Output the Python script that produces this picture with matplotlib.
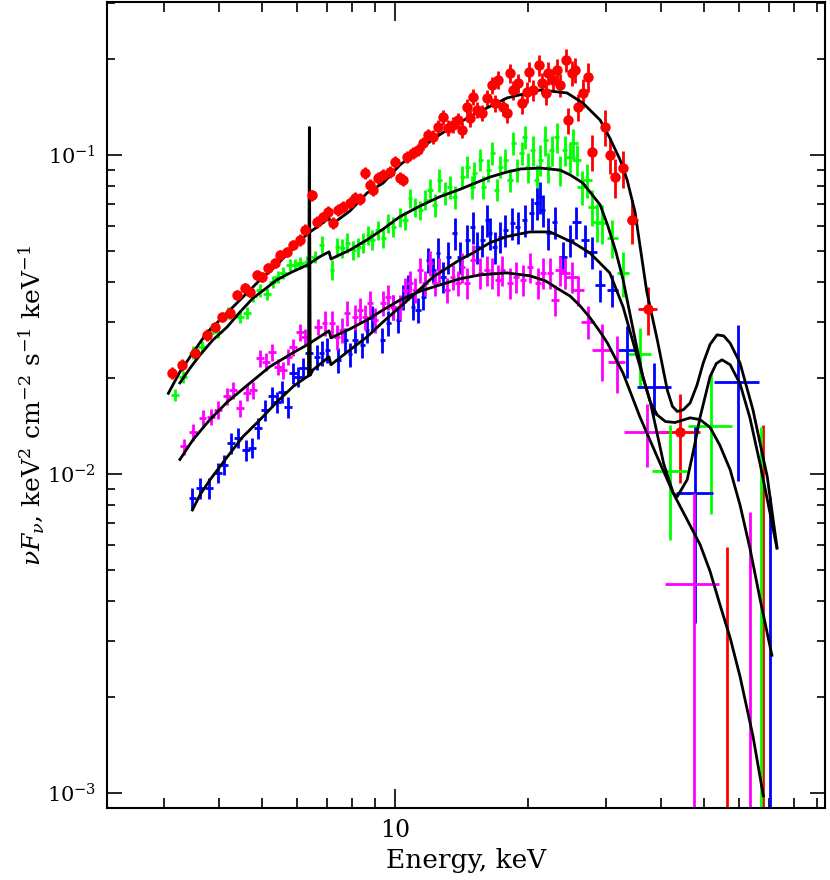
import numpy as np
import matplotlib.pyplot as plt
from matplotlib.ticker import LogLocator, NullFormatter

plt.rcParams['font.family'] = ['DejaVu Serif']
plt.rcParams['mathtext.fontset'] = 'dejavuserif'

# ---- spectrum 1 (red, filled circles)
red_e = [3.13, 3.29, 3.53, 3.75, 3.91, 4.06, 4.24, 4.40, 4.58, 4.70,
         4.87, 5.00, 5.16, 5.35, 5.49, 5.69, 5.88, 6.10, 6.26, 6.49,
         6.66, 6.87, 7.05, 7.24, 7.43, 7.63, 7.91, 8.12, 8.33, 8.55,
         8.78, 8.92, 9.15, 9.40, 9.74, 10.0, 10.26, 10.4, 10.64, 10.98,
         11.27, 11.57, 11.88, 12.19, 12.51, 12.84, 13.18, 13.53, 13.88, 14.18,
         14.55, 14.79, 15.02, 15.33, 15.74, 16.15, 16.58, 16.83, 17.10, 17.54,
         17.91, 18.2, 18.49, 18.97, 19.37, 19.89, 20.1, 20.5, 21.2, 21.5,
         21.96, 22.2, 22.75, 23.26, 23.6, 24.4, 24.6, 25.1, 25.5, 25.9,
         26.6, 27.3, 27.9, 29.9, 30.6, 31.5, 32.8, 34.4, 37.3, 44.2]
red_de = [0.06, 0.06, 0.07, 0.07, 0.07, 0.07, 0.08, 0.08, 0.08, 0.08,
          0.08, 0.08, 0.08, 0.08, 0.08, 0.08, 0.08, 0.08, 0.08, 0.08,
          0.08, 0.08, 0.09, 0.09, 0.09, 0.09, 0.10, 0.10, 0.10, 0.10,
          0.11, 0.11, 0.11, 0.11, 0.12, 0.12, 0.12, 0.12, 0.13, 0.13,
          0.14, 0.14, 0.14, 0.15, 0.15, 0.15, 0.16, 0.16, 0.17, 0.17,
          0.17, 0.18, 0.18, 0.18, 0.19, 0.19, 0.20, 0.20, 0.21, 0.21,
          0.21, 0.22, 0.22, 0.23, 0.23, 0.24, 0.24, 0.25, 0.25, 0.26,
          0.26, 0.27, 0.27, 0.28, 0.28, 0.29, 0.30, 0.30, 0.31, 0.31,
          0.32, 0.33, 0.4, 0.5, 0.4, 0.4, 0.45, 1.0, 1.9, 4.8]
red_f = [0.0207, 0.0220, 0.0240, 0.0273, 0.0289, 0.0311, 0.0319, 0.0364, 0.0383, 0.0372,
         0.0421, 0.0415, 0.0442, 0.0459, 0.0486, 0.0497, 0.0522, 0.0542, 0.0582, 0.0749,
         0.0617, 0.0639, 0.0663, 0.0612, 0.0673, 0.0687, 0.0707, 0.0733, 0.0728, 0.0878,
         0.0805, 0.0777, 0.0847, 0.0866, 0.0884, 0.0951, 0.0847, 0.0835, 0.0986, 0.1014,
         0.1037, 0.1090, 0.1155, 0.1139, 0.1224, 0.1316, 0.1215, 0.1242, 0.1287, 0.1198,
         0.1414, 0.1306, 0.1520, 0.1384, 0.1354, 0.1509, 0.1657, 0.1455, 0.1718, 0.1414,
         0.1354, 0.1807, 0.1599, 0.1680, 0.1455, 0.1576, 0.1820, 0.1599, 0.1915, 0.1680,
         0.1565, 0.1807, 0.1718, 0.1847, 0.1657, 0.1986, 0.1287, 0.1807, 0.1847, 0.1414,
         0.1565, 0.1757, 0.1022, 0.1224, 0.1000, 0.0853, 0.0910, 0.0625, 0.0329, 0.01355]
red_df = [0.0009, 0.0009, 0.0010, 0.0011, 0.0011, 0.0012, 0.0012, 0.0014, 0.0014, 0.0014,
          0.0016, 0.0016, 0.0017, 0.0017, 0.0018, 0.0019, 0.0020, 0.0022, 0.0024, 0.0030,
          0.0025, 0.0026, 0.0027, 0.0026, 0.0028, 0.0029, 0.0030, 0.0031, 0.0031, 0.0037,
          0.0034, 0.0033, 0.0036, 0.0037, 0.0038, 0.0040, 0.0036, 0.0036, 0.0042, 0.0045,
          0.0046, 0.0050, 0.0055, 0.0055, 0.006, 0.007, 0.007, 0.007, 0.007, 0.007,
          0.008, 0.008, 0.009, 0.008, 0.008, 0.009, 0.010, 0.009, 0.011, 0.009,
          0.009, 0.012, 0.011, 0.011, 0.011, 0.012, 0.013, 0.012, 0.015, 0.013,
          0.013, 0.015, 0.014, 0.015, 0.014, 0.017, 0.012, 0.016, 0.016, 0.014,
          0.016, 0.018, 0.013, 0.016, 0.013, 0.012, 0.012, 0.010, 0.0057, 0.0042]
red_lim_e = [56.4, 68.0]
red_lim_top = [0.0059, 0.01425]

# ---- spectrum 2 (green)
green_e = [3.18, 3.31, 3.49, 3.66, 3.81, 3.97, 4.19, 4.46, 4.62, 4.77,
           4.95, 5.13, 5.29, 5.43, 5.58, 5.79, 5.94, 6.10, 6.33, 6.59,
           6.83, 7.20, 7.40, 7.59, 7.79, 8.04, 8.25, 8.46, 8.69, 8.87,
           9.15, 9.40, 9.65, 9.90, 10.26, 10.53, 10.81, 11.1, 11.39, 11.7,
           12.0, 12.3, 12.6, 12.95, 13.3, 13.65, 14.2, 14.55, 14.95, 15.1,
           15.6, 15.85, 16.25, 16.6, 17.0, 17.3, 17.75, 18.2, 18.5, 18.85,
           19.35, 19.65, 19.95, 20.5, 20.9, 21.3, 21.85, 22.2, 22.6, 23.2,
           23.6, 24.2, 24.9, 25.3, 25.8, 26.45, 27.15, 27.95, 28.6, 29.4,
           31.0, 32.8, 35.8, 41.9, 51.9]
green_de = [0.06, 0.07, 0.07, 0.07, 0.08, 0.08, 0.08, 0.09, 0.09, 0.10,
            0.10, 0.10, 0.10, 0.11, 0.11, 0.11, 0.12, 0.12, 0.12, 0.12,
            0.09, 0.09, 0.10, 0.10, 0.10, 0.10, 0.11, 0.11, 0.11, 0.12,
            0.12, 0.12, 0.13, 0.13, 0.13, 0.14, 0.14, 0.14, 0.15, 0.15,
            0.16, 0.16, 0.16, 0.17, 0.17, 0.18, 0.18, 0.19, 0.19, 0.20,
            0.20, 0.21, 0.21, 0.22, 0.22, 0.22, 0.23, 0.24, 0.24, 0.25,
            0.25, 0.26, 0.26, 0.27, 0.27, 0.28, 0.28, 0.29, 0.29, 0.30,
            0.31, 0.31, 0.6, 0.6, 0.6, 0.7, 0.7, 0.7, 0.8, 0.8,
            0.9, 1.0, 2.2, 3.8, 6.0]
green_f = [0.0177, 0.0202, 0.0240, 0.0250, 0.0277, 0.0279, 0.0319, 0.0311, 0.0319, 0.0361,
           0.0377, 0.0366, 0.0400, 0.0415, 0.0427, 0.0452, 0.0452, 0.0459, 0.0462, 0.0479,
           0.0522, 0.0436, 0.0514, 0.0511, 0.0531, 0.0504, 0.0514, 0.0531, 0.0562, 0.0542,
           0.0582, 0.0550, 0.0612, 0.0595, 0.0639, 0.0625, 0.0733, 0.0687, 0.0673, 0.0723,
           0.0777, 0.0697, 0.0835, 0.0760, 0.0794, 0.0738, 0.0853, 0.0917, 0.0794, 0.0878,
           0.0965, 0.0794, 0.0897, 0.1014, 0.0777, 0.0917, 0.0965, 0.0835, 0.1090, 0.0897,
           0.1014, 0.1139, 0.0917, 0.1037, 0.0835, 0.0965, 0.1114, 0.0917, 0.1037, 0.1139,
           0.0897, 0.1037, 0.0986, 0.1090, 0.0965, 0.0794, 0.0835, 0.0687, 0.0617, 0.0612,
           0.0550, 0.0427, 0.0237, 0.0102, 0.0141]
green_df = [0.0008, 0.0009, 0.0011, 0.0011, 0.0012, 0.0012, 0.0014, 0.0014, 0.0014, 0.0016,
            0.0017, 0.0016, 0.0018, 0.0018, 0.0019, 0.0020, 0.0020, 0.0020, 0.0020, 0.0021,
            0.0037, 0.0031, 0.0036, 0.0036, 0.0037, 0.0035, 0.0036, 0.0037, 0.0039, 0.0038,
            0.0041, 0.0039, 0.0043, 0.0042, 0.0045, 0.0044, 0.0051, 0.0048, 0.0047, 0.0051,
            0.0062, 0.0056, 0.0067, 0.0061, 0.0064, 0.0059, 0.0068, 0.0073, 0.0064, 0.0070,
            0.0077, 0.0064, 0.0072, 0.0081, 0.0062, 0.0073, 0.0077, 0.0067, 0.0087, 0.0072,
            0.0081, 0.0091, 0.0101, 0.0114, 0.0092, 0.0106, 0.0123, 0.0101, 0.0114, 0.0125,
            0.0099, 0.0114, 0.0108, 0.0120, 0.0106, 0.0095, 0.0100, 0.0090, 0.0085, 0.0085,
            0.0075, 0.0068, 0.0050, 0.0040, 0.0066]
green_lim_e = [67.4]
green_lim_top = [0.0140]

# ---- spectrum 3 (blue)
blue_e = [3.48, 3.62, 3.79, 3.97, 4.11, 4.26, 4.41, 4.60, 4.75, 4.90,
          5.08, 5.26, 5.40, 5.55, 5.73, 5.88, 6.04, 6.19, 6.38, 6.66,
          6.83, 7.02, 7.43, 7.71, 7.91, 8.12, 8.42, 8.64, 8.87, 9.35,
          9.65, 9.90, 10.16, 10.4, 10.7, 10.98, 11.27, 11.57, 11.88, 12.19,
          12.51, 12.84, 13.18, 13.65, 14.0, 14.55, 15.0, 15.33, 15.74, 16.15,
          16.4, 16.83, 17.3, 17.75, 18.4, 18.97, 19.65, 20.4, 20.9, 21.3,
          21.6, 22.2, 23.0, 24.0, 24.9, 25.7, 26.9, 27.9, 29.1, 31.0,
          33.5, 38.6, 47.7, 59.7]
blue_de = [0.07, 0.07, 0.08, 0.08, 0.08, 0.09, 0.09, 0.09, 0.10, 0.10,
           0.10, 0.11, 0.11, 0.11, 0.11, 0.12, 0.12, 0.12, 0.13, 0.09,
           0.09, 0.09, 0.10, 0.10, 0.10, 0.11, 0.11, 0.11, 0.12, 0.12,
           0.13, 0.13, 0.13, 0.14, 0.14, 0.14, 0.15, 0.15, 0.15, 0.16,
           0.16, 0.17, 0.17, 0.18, 0.18, 0.19, 0.20, 0.20, 0.20, 0.21,
           0.21, 0.22, 0.22, 0.23, 0.24, 0.25, 0.26, 0.27, 0.27, 0.28,
           0.28, 0.29, 0.30, 0.5, 0.5, 0.6, 0.6, 0.7, 0.8, 0.9,
           1.6, 3.4, 4.6, 7.0]
blue_f = [0.00841, 0.00904, 0.00904, 0.0101, 0.0107, 0.0125, 0.0130, 0.0119, 0.0121, 0.0139,
          0.0159, 0.0175, 0.0168, 0.0181, 0.0162, 0.0207, 0.0202, 0.0215, 0.0240, 0.0233,
          0.0240, 0.0245, 0.0228, 0.0263, 0.0237, 0.0263, 0.0254, 0.0283, 0.0308, 0.0263,
          0.0297, 0.0334, 0.0304, 0.0358, 0.0386, 0.0334, 0.0327, 0.0358, 0.0469, 0.0436,
          0.0493, 0.0415, 0.0479, 0.0570, 0.0479, 0.0542, 0.0595, 0.0514, 0.0542, 0.0625,
          0.0570, 0.0514, 0.0555, 0.0582, 0.0612, 0.0595, 0.0625, 0.0658, 0.0707, 0.0738,
          0.0673, 0.0570, 0.0617, 0.0479, 0.0542, 0.0617, 0.0542, 0.0497, 0.0391, 0.0377,
          0.0245, 0.0188, 0.00872, 0.0194]
blue_df = [0.00063, 0.00068, 0.00068, 0.00076, 0.0008, 0.00094, 0.00098, 0.0009, 0.0009, 0.00104,
           0.0012, 0.0013, 0.0013, 0.0014, 0.0012, 0.0016, 0.0015, 0.0016, 0.0018, 0.0021,
           0.0022, 0.0022, 0.0021, 0.0024, 0.0021, 0.0024, 0.0023, 0.0025, 0.0028, 0.0024,
           0.0027, 0.0030, 0.0027, 0.0032, 0.0035, 0.0030, 0.0029, 0.0032, 0.0042, 0.0039,
           0.0056, 0.0047, 0.0055, 0.0065, 0.0055, 0.0062, 0.0068, 0.0059, 0.0062, 0.0071,
           0.0065, 0.0059, 0.0063, 0.0066, 0.0070, 0.0068, 0.0071, 0.0075, 0.0081, 0.0084,
           0.0077, 0.0065, 0.0070, 0.0055, 0.0062, 0.0070, 0.0062, 0.0057, 0.0045, 0.0043,
           0.0045, 0.0035, 0.0053, 0.0099]
blue_lim_e = [70.5]
blue_lim_top = [0.00848]

# ---- spectrum 4 (magenta)
mag_e = [3.33, 3.49, 3.67, 3.83, 3.97, 4.17, 4.30, 4.46, 4.62, 4.77,
         4.95, 5.11, 5.26, 5.43, 5.58, 5.73, 5.88, 6.10, 6.26, 6.69,
         6.93, 7.20, 7.40, 7.59, 7.79, 8.12, 8.33, 8.55, 8.78, 9.01,
         9.40, 9.65, 9.90, 10.26, 10.53, 10.81, 11.1, 11.39, 11.7, 12.0,
         12.3, 12.6, 13.1, 13.5, 13.9, 14.2, 14.55, 15.0, 15.6, 16.15,
         16.6, 17.1, 17.5, 18.2, 18.8, 19.5, 20.2, 21.1, 21.6, 22.4,
         23.0, 23.6, 24.2, 25.1, 25.9, 27.3, 29.4, 31.7, 37.1]
mag_de = [0.07, 0.07, 0.07, 0.08, 0.08, 0.08, 0.09, 0.09, 0.09, 0.10,
          0.10, 0.10, 0.11, 0.11, 0.11, 0.11, 0.12, 0.12, 0.13, 0.13,
          0.10, 0.11, 0.11, 0.11, 0.12, 0.12, 0.12, 0.13, 0.13, 0.14,
          0.14, 0.14, 0.15, 0.15, 0.16, 0.16, 0.17, 0.17, 0.18, 0.18,
          0.18, 0.19, 0.20, 0.20, 0.21, 0.21, 0.22, 0.23, 0.23, 0.24,
          0.25, 0.26, 0.26, 0.27, 0.28, 0.29, 0.30, 0.32, 0.32, 0.34,
          0.5, 0.6, 0.7, 0.9, 0.9, 0.9, 1.45, 1.4, 4.2]
mag_f = [0.0122, 0.0135, 0.0150, 0.0151, 0.0159, 0.0175, 0.0183, 0.0161, 0.0180, 0.0183,
         0.0231, 0.0225, 0.0241, 0.0217, 0.0212, 0.0233, 0.0250, 0.0279, 0.0269, 0.0289,
         0.0297, 0.0297, 0.0269, 0.0283, 0.0319, 0.0311, 0.0327, 0.0311, 0.0343, 0.0304,
         0.0343, 0.0358, 0.0334, 0.0334, 0.0377, 0.0397, 0.0377, 0.0436, 0.0397, 0.0459,
         0.0397, 0.0436, 0.0377, 0.0415, 0.0397, 0.0445, 0.0397, 0.0469, 0.0427, 0.0436,
         0.0427, 0.0406, 0.0436, 0.0397, 0.0415, 0.0406, 0.0445, 0.0397, 0.0427, 0.0427,
         0.0351, 0.0436, 0.0427, 0.0415, 0.0377, 0.0300, 0.0245, 0.0225, 0.01355]
mag_df = [0.0007, 0.0008, 0.0009, 0.0009, 0.0010, 0.0011, 0.0011, 0.0010, 0.0011, 0.0011,
          0.0014, 0.0014, 0.0015, 0.0013, 0.0013, 0.0014, 0.0015, 0.0017, 0.0016, 0.0017,
          0.0027, 0.0027, 0.0024, 0.0025, 0.0029, 0.0028, 0.0029, 0.0028, 0.0031, 0.0027,
          0.0031, 0.0032, 0.0030, 0.0030, 0.0034, 0.0036, 0.0034, 0.0039, 0.0036, 0.0041,
          0.0036, 0.0039, 0.0034, 0.0037, 0.0036, 0.0049, 0.0044, 0.0052, 0.0047, 0.0048,
          0.0047, 0.0045, 0.0048, 0.0044, 0.0046, 0.0045, 0.0049, 0.0044, 0.0047, 0.0047,
          0.0039, 0.0048, 0.0047, 0.0046, 0.0041, 0.0036, 0.0050, 0.0045, 0.0030]
# bin whose lower error reaches below the plot
mag_low_e = [47.5]
mag_low_de = [6.6]
mag_low_f = [0.00453]
mag_low_top = [0.0087]
mag_lim_e = [63.5]
mag_lim_top = [0.0076]

# ---- best-fit models
mod_red_e = [3.07, 3.26, 3.49, 3.75, 4.17, 4.53, 4.95, 5.40, 5.88, 6.33,
             6.76, 7.09, 7.16, 7.91, 8.64, 9.40, 10.26, 11.2, 12.2, 13.3,
             15.0, 17.9, 21.3, 24.5, 26.6, 29.1, 30.6, 32.3, 33.5, 34.9,
             37.1, 39.2, 41.3, 42.4, 43.5, 44.9, 46.5, 48.2, 49.8, 51.6,
             53.5, 55.4, 57.3, 60.3, 64.5, 69.5, 73.1]
mod_red_f = [0.0179, 0.0209, 0.0240, 0.0277, 0.0320, 0.0359, 0.0406, 0.0452, 0.0511, 0.0566,
             0.0603, 0.0635, 0.0603, 0.0668, 0.0760, 0.0817, 0.0931, 0.1022, 0.1122, 0.1215,
             0.1335, 0.1509, 0.1599, 0.1565, 0.1455, 0.1287, 0.1131, 0.0965, 0.0835, 0.0663,
             0.0373, 0.0263, 0.0183, 0.0163, 0.0157, 0.0159, 0.0167, 0.0190, 0.0223, 0.0255,
             0.0273, 0.0271, 0.0257, 0.0223, 0.0159, 0.0098, 0.0059]

mod_green_e = [3.26, 3.44, 3.62, 3.87, 4.17, 4.46, 4.77, 5.08, 5.40, 5.85,
               6.33, 6.76, 7.09, 7.16, 7.91, 8.64, 9.40, 10.26, 11.39, 12.6,
               14.0, 15.0, 16.4, 17.9, 19.2, 21.3, 23.6, 24.9, 26.6, 27.6,
               29.1, 30.3, 31.6, 32.8, 34.5, 36.4, 37.8, 39.2, 40.9, 43.0,
               46.5, 49.0, 51.6, 54.3, 57.3, 60.3, 63.5, 67.0, 71.2]
mod_green_f = [0.0193, 0.0215, 0.0236, 0.0263, 0.0289, 0.0322, 0.0356, 0.0380, 0.0406, 0.0430,
               0.0452, 0.0480, 0.0497, 0.0472, 0.0504, 0.0542, 0.0586, 0.0641, 0.0692, 0.0739,
               0.0780, 0.0811, 0.0853, 0.0884, 0.0904, 0.0910, 0.0897, 0.0866, 0.0817, 0.0766,
               0.0698, 0.0599, 0.0497, 0.0406, 0.0287, 0.0200, 0.0168, 0.0153, 0.0146, 0.0145,
               0.0150, 0.0148, 0.0140, 0.0123, 0.0103, 0.0080, 0.00585, 0.00403, 0.00270]

mod_blue_e = [3.48, 3.62, 3.81, 4.17, 4.53, 4.95, 5.40, 5.88, 6.26, 6.37,
              6.40, 6.43, 6.52, 7.09, 7.16, 7.91, 8.64, 9.40, 10.26, 11.2,
              12.2, 14.0, 15.0, 16.4, 17.9, 20.2, 22.4, 25.3, 27.6, 30.6,
              32.8, 35.3, 37.8, 40.5, 42.6, 43.5, 45.8, 47.3, 49.0, 51.6,
              53.3, 54.9, 57.3, 60.3, 63.5, 67.0, 70.5, 73.1]
mod_blue_f = [0.00771, 0.0086, 0.00957, 0.0113, 0.0131, 0.0148, 0.0168, 0.0188, 0.0200, 0.0203,
              0.122, 0.0204, 0.0212, 0.0233, 0.0220, 0.0245, 0.0269, 0.0300, 0.0334, 0.0372,
              0.0415, 0.0469, 0.0493, 0.0531, 0.0555, 0.0574, 0.0574, 0.0531, 0.0493, 0.0427,
              0.0334, 0.0233, 0.0168, 0.0108, 0.0087, 0.0085, 0.0096, 0.0118, 0.0151, 0.0202,
              0.0222, 0.0228, 0.0220, 0.0192, 0.0150, 0.0107, 0.00755, 0.00585]

mod_mag_e = [3.26, 3.49, 3.81, 4.17, 4.70, 5.21, 5.88, 6.33, 6.69, 7.09,
             7.16, 7.91, 8.64, 9.40, 10.26, 11.39, 12.6, 14.0, 15.6, 17.9,
             20.2, 21.9, 23.2, 24.9, 26.2, 27.6, 29.1, 30.2, 32.8, 35.8,
             39.2, 42.6, 46.5, 49.0, 51.6, 54.3, 57.3, 60.3, 64.5, 68.1]
mod_mag_f = [0.0111, 0.0128, 0.0148, 0.0168, 0.0193, 0.0217, 0.0240, 0.0254, 0.0267, 0.0281,
             0.0267, 0.0285, 0.0304, 0.0327, 0.0351, 0.0374, 0.0391, 0.0409, 0.0421, 0.0427,
             0.0418, 0.0403, 0.0383, 0.0361, 0.0337, 0.0309, 0.0279, 0.0258, 0.0207, 0.0151,
             0.0113, 0.0087, 0.0069, 0.0060, 0.00495, 0.0039, 0.00306, 0.00232, 0.00151, 0.00098]

RED, GREEN, BLUE, MAG = '#ff0000', '#00ff00', '#0000ff', '#ff00ff'
ELW = 2.0

fig = plt.figure(figsize=(8.3, 8.8), dpi=100)
ax = fig.add_axes([0.1289, 0.0818, 0.8651, 0.9159])
ax.set_xscale('log')
ax.set_yscale('log')
ax.set_xlim(2.23, 93.9)
ax.set_ylim(8.97e-4, 0.3017)

ymin = 1e-5  # below the visible range: bars run off the bottom

ax.errorbar(red_e, red_f, xerr=red_de, yerr=red_df, fmt='o', color=RED,
            ms=7.5, elinewidth=ELW, capsize=0, mew=0)
ax.vlines(red_lim_e, ymin, red_lim_top, color=RED, lw=ELW)

ax.errorbar(green_e, green_f, xerr=green_de, yerr=green_df, fmt='none',
            ecolor=GREEN, elinewidth=ELW, capsize=0)
ax.vlines(green_lim_e, ymin, green_lim_top, color=GREEN, lw=ELW)

ax.errorbar(blue_e, blue_f, xerr=blue_de, yerr=blue_df, fmt='none',
            ecolor=BLUE, elinewidth=ELW, capsize=0)
ax.vlines(blue_lim_e, ymin, blue_lim_top, color=BLUE, lw=ELW)

ax.errorbar(mag_e, mag_f, xerr=mag_de, yerr=mag_df, fmt='none',
            ecolor=MAG, elinewidth=ELW, capsize=0)
low = np.array(mag_low_f)
ax.errorbar(mag_low_e, mag_low_f, xerr=mag_low_de,
            yerr=[low - ymin, np.array(mag_low_top) - low], fmt='none',
            ecolor=MAG, elinewidth=ELW, capsize=0)
ax.vlines(mag_lim_e, ymin, mag_lim_top, color=MAG, lw=ELW)

for me, mf in [(mod_red_e, mod_red_f), (mod_green_e, mod_green_f),
               (mod_blue_e, mod_blue_f), (mod_mag_e, mod_mag_f)]:
    ax.plot(me, mf, color='black', lw=2.0, solid_joinstyle='round')

# axes, ticks
ax.set_xticks([10])
ax.set_xticklabels(['10'])
ax.xaxis.set_minor_locator(LogLocator(base=10, subs=np.arange(2, 10)))
ax.xaxis.set_minor_formatter(NullFormatter())
ax.yaxis.set_minor_locator(LogLocator(base=10, subs=np.arange(2, 10)))
ax.yaxis.set_minor_formatter(NullFormatter())
ax.tick_params(axis='x', which='major', direction='in', top=True, length=14, width=1.2,
               labelsize=17, pad=8)
ax.tick_params(axis='x', which='minor', direction='in', top=True, length=7, width=1.2)
ax.tick_params(axis='y', which='major', direction='in', right=True, length=11, width=1.2,
               labelsize=15, pad=8)
ax.tick_params(axis='y', which='minor', direction='in', right=True, length=6, width=1.2)
for sp in ax.spines.values():
    sp.set_linewidth(1.5)

ax.set_xlabel('Energy, keV', fontsize=19, labelpad=4)
ax.set_ylabel(r'$\nu F_{\nu}$, keV$^{2}$ cm$^{-2}$ s$^{-1}$ keV$^{-1}$', fontsize=18, labelpad=0)

fig.savefig('out.png', dpi=100)
